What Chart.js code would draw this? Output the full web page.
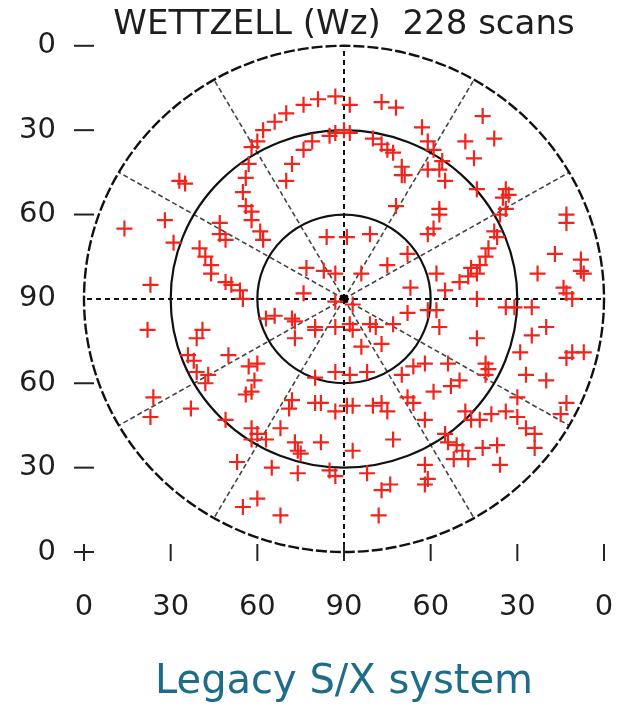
<!DOCTYPE html>
<html>
<head>
<meta charset="utf-8">
<script src="https://cdn.jsdelivr.net/npm/chart.js@4.4.1/dist/chart.umd.min.js"></script>
<style>
  html, body { margin: 0; padding: 0; background: #fff; }
</style>
</head>
<body>
<canvas id="skyChart" width="623" height="707"></canvas>
<script>
// sky plot: x = east/west offset, y = north/south offset, both in degrees of zenith distance
const titleText = "WETTZELL (Wz)  228 scans";
const footerText = "Legacy S/X system";
const xTickLabels = ["0", "30", "60", "90", "60", "30", "0"];
const yTickLabels = ["0", "30", "60", "90", "60", "30", "0"];
const elevationRings = [0, 30, 60];
const spokeAzimuths = [0, 30, 60, 90, 120, 150, 180, 210, 240, 270, 300, 330];

const scanPoints = [
  [-57, 42], [-55, 41], [-32, 54], [-33, 48], [-34, 43], [-35, 38], [-34, 33], [-32, 31], [-30, 56],
  [-28, 60], [-24, 63], [-20, 66], [-14, 69], [-9, 71], [-3, 72], [2, 69], [13, 70], [18, 68],
  [-14, 53], [-11, 56], [-5, 58], [-3, 59], [0, 60], [2, 59], [10, 57], [13, 55], [15, 53], [17, 52],
  [20, 47], [20, 44], [21, 44], [-18, 48], [-20, 42], [27, 61], [29, 56], [18, 33], [29, 46],
  [48, 65], [42, 56], [52, 57], [45, 50], [31, 53], [34, 49], [33, 46], [35, 42], [46, 39], [56, 39],
  [57, 37], [55, 36], [56, 32], [54, 30], [33, 32], [77, 30],
  [-76, 25], [-62, 28], [-59, 20], [-43, 27], [-43, 23], [-41, 21], [-50, 18], [-48, 15], [-46, 12],
  [-46, 9], [-41, 6], [-39, 5], [-36, 3], [-35, 0], [-67, 5], [-32, 28],
  [-68, -11], [-49, -11], [-51, -14], [-54, -20], [-52, -22], [-51, -26], [-47, -27], [-40, -20],
  [-33, -24], [-31, -29],
  [-6, 22], [1, 22], [9, 23], [-29, 24], [-28, 21], [-13, 11], [-7, 10], [-3, 9], [6, 9], [15, 12],
  [23, 4], [-14, 2], [29, 23], [22, 16], [-3, -1], [3, -2],
  [-27, -7], [-24, -6], [-18, -7], [-17, -8], [-10, -10], [-10, -11], [-3, -10], [2, -9], [3, -11],
  [9, -9], [11, -10], [17, -9], [22, -5], [29, -4], [-17, -14], [6, -17], [13, -16], [-30, -23],
  [-3, -26], [2, -27], [8, -26], [-10, -28], [20, -27], [24, -24], [28, -23],
  [33, 30], [52, 24], [53, 22], [77, 27], [31, 25], [50, 18], [49, 15], [47, 12], [44, 11], [46, 9],
  [43, 8], [40, 6], [32, 9], [35, 3], [46, 0], [67, 9], [73, 16], [82, 14], [82, 10], [83, 9],
  [76, 4], [77, 2], [79, 0], [56, -3], [59, -3], [65, -3], [32, -4], [33, -10], [65, -13], [70, -10],
  [46, -14], [61, -19], [79, -19], [83, -19], [77, -21], [36, -23], [49, -23], [50, -25], [49, -27],
  [40, -29], [63, -27], [70, -29],
  [-66, -35], [-67, -42], [-53, -39], [-48, -30], [-41, -43], [-34, -34], [-32, -33], [-32, -46],
  [-32, -50], [-37, -58], [-35, -74], [-30, -71],
  [-18, -36], [-19, -39], [-10, -37], [-8, -37], [-3, -40], [1, -38], [3, -38], [10, -38], [13, -37],
  [15, -40], [22, -35], [24, -37], [28, -43], [-22, -46], [-30, -48], [-27, -50], [-17, -51],
  [-16, -54], [-15, -55], [-8, -51], [3, -54], [17, -50], [-25, -60], [-16, -62], [-5, -61],
  [-3, -63], [8, -62], [13, -68], [16, -66], [-22, -77], [12, -77], [28, -59], [29, -64], [28, -66],
  [31, -33], [37, -31], [60, -35], [77, -37], [75, -41], [42, -40], [44, -43], [47, -43], [51, -41],
  [56, -40], [60, -42], [63, -46], [66, -48], [66, -53], [35, -48], [36, -51], [39, -52], [41, -54],
  [38, -57], [43, -57], [48, -53], [53, -52], [54, -59]
];

const zenith = [[0, 0]];

// rings and spokes of the sky plot, placed with the chart's own scales
const skyGrid = {
  id: "skyGrid",
  beforeDatasetsDraw(chart) {
    const { ctx, scales: { x, y } } = chart;
    const cx = x.getPixelForValue(0);
    const cy = y.getPixelForValue(0);
    ctx.save();

    spokeAzimuths.forEach((az) => {
      const a = az * Math.PI / 180;
      const ex = x.getPixelForValue(90 * Math.sin(a));
      const ey = y.getPixelForValue(90 * Math.cos(a));
      const main = az % 90 === 0;
      ctx.beginPath();
      ctx.setLineDash(main ? [5, 4] : [5, 3]);
      ctx.lineWidth = main ? 2 : 1.6;
      ctx.strokeStyle = main ? "#111" : "#444";
      ctx.moveTo(cx, cy);
      ctx.lineTo(ex, ey);
      ctx.stroke();
    });

    elevationRings.forEach((el) => {
      const r = 90 - el;
      const rx = x.getPixelForValue(r) - cx;
      const ry = cy - y.getPixelForValue(r);
      ctx.beginPath();
      ctx.setLineDash(el === 0 ? [11, 3] : []);
      ctx.lineWidth = el === 0 ? 2.4 : 2.2;
      ctx.strokeStyle = "#111";
      ctx.ellipse(cx, cy, rx, ry, 0, 0, Math.PI * 2);
      ctx.stroke();
    });
    ctx.restore();
  }
};

// short tick marks that straddle the left and bottom edges
const edgeTicks = {
  id: "edgeTicks",
  afterDraw(chart) {
    const { ctx, chartArea, scales: { x, y } } = chart;
    ctx.save();
    ctx.strokeStyle = "#222";
    ctx.lineWidth = 2;
    y.ticks.forEach((t) => {
      if (t.value === 0) return;
      const py = y.getPixelForValue(t.value);
      ctx.beginPath();
      ctx.moveTo(chartArea.left - 10, py);
      ctx.lineTo(chartArea.left + 10, py);
      ctx.stroke();
    });
    x.ticks.forEach((t) => {
      const px = x.getPixelForValue(t.value);
      ctx.beginPath();
      ctx.moveTo(px, chartArea.bottom - 8);
      ctx.lineTo(px, chartArea.bottom + 9);
      ctx.stroke();
    });
    ctx.restore();
  }
};

new Chart(document.getElementById("skyChart"), {
  type: "scatter",
  data: {
    datasets: [
      {
        label: "scans",
        data: scanPoints.map((p) => ({ x: p[0], y: p[1] })),
        pointStyle: "cross",
        pointRadius: 8,
        borderWidth: 2.2,
        borderColor: "#f0241c",
        backgroundColor: "#f0241c"
      },
      {
        label: "zenith",
        data: zenith.map((p) => ({ x: p[0], y: p[1] })),
        pointStyle: "rect",
        pointRadius: 5.5,
        borderWidth: 0,
        backgroundColor: "#000"
      }
    ]
  },
  options: {
    responsive: false,
    animation: false,
    layout: { padding: { left: 0, right: 19, top: 0, bottom: 0 } },
    plugins: {
      legend: { display: false },
      tooltip: { enabled: false },
      title: {
        display: true,
        text: titleText,
        fullSize: false,
        color: "#1e1e1e",
        font: { family: "DejaVu Sans", size: 34, weight: "normal" },
        padding: { top: 5, bottom: 0 }
      },
      subtitle: {
        display: true,
        position: "bottom",
        text: footerText,
        fullSize: false,
        color: "#1d6d8a",
        font: { family: "DejaVu Sans", size: 40, weight: "normal" },
        padding: { top: 0, bottom: 0 }
      }
    },
    scales: {
      x: {
        type: "linear",
        min: -90,
        max: 90,
        ticks: {
          stepSize: 30,
          color: "#1e1e1e",
          // tall line box instead of tick padding, so the side padding stays small
          font: { family: "DejaVu Sans", size: 29, lineHeight: 3.8 },
          padding: 0,
          callback: (v, i) => xTickLabels[i]
        },
        grid: { display: false, drawTicks: false },
        border: { display: false },
        afterFit: (s) => { s.height = 107; }
      },
      y: {
        type: "linear",
        min: -90,
        max: 90,
        ticks: {
          stepSize: 30,
          color: "#1e1e1e",
          font: { family: "DejaVu Sans", size: 29 },
          padding: 28,
          callback: (v, i) => yTickLabels[i]
        },
        grid: { display: false, drawTicks: false },
        border: { display: false },
        afterFit: (s) => { s.width = 84; }
      }
    }
  },
  plugins: [skyGrid, edgeTicks]
});
</script>
</body>
</html>
